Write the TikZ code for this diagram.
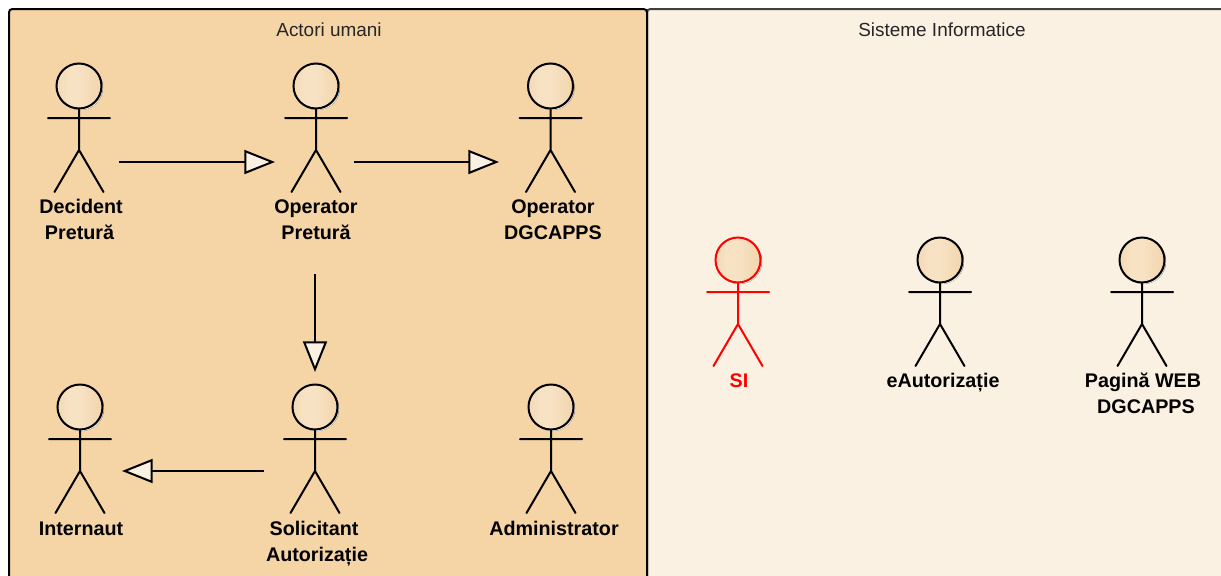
\documentclass[tikz,border=0pt]{standalone}
\usepackage{fontspec}
\setmainfont{Liberation Sans}
\usetikzlibrary{arrows.meta}
\definecolor{panelA}{HTML}{F5D5A6}
\definecolor{panelB}{HTML}{FBF1E2}
\definecolor{headA}{HTML}{EBCB9C}
\definecolor{headB}{HTML}{F7E2C4}
\definecolor{headC}{HTML}{EDC792}
\definecolor{shade}{HTML}{B9BCD0}
\definecolor{redline}{HTML}{FF0000}
\pgfdeclarehorizontalshading{headshade}{100bp}{color(0bp)=(headA); color(38bp)=(headB); color(50bp)=(headB); color(100bp)=(headC)}
\tikzset{
  panel/.style={draw=black,line width=1.5pt,rounded corners=2.5pt},
  paneltitle/.style={font=\fontsize{14.2pt}{16pt}\selectfont,anchor=base,inner sep=0pt,text=black!85},
  actorname/.style={font=\fontsize{14.8pt}{17pt}\selectfont\bfseries,anchor=base,inner sep=0pt},
  limb/.style={line width=1.5pt,line cap=round},
  headnode/.style={circle,minimum size=33.75pt,inner sep=0pt,line width=1.5pt,shading=headshade,shading angle=0},
  gen/.style={line width=1.5pt,-{Triangle[length=23pt,width=18pt,fill=panelB,line width=1.5pt]}},
  pics/actor/.style={code={
    \fill[shade] (1.5,1.5) circle[radius=22.5];
    \node[headnode,draw=#1] (-head) at (0,0) {};
    \draw[limb,#1] (-head.south) -- (0,64) (-31,32) -- (31,32) (-24.5,106) -- (0,64) -- (24.5,106);
  }},
  pics/actor/.default=black
}
\begin{document}
\begin{tikzpicture}[x=0.75pt,y=-0.75pt]
\useasboundingbox (0,0) rectangle (1221,575);
\begin{scope}
\clip (0,0) rectangle (1221,575);
\path[panel,fill=panelB,draw=black!75] (647,9) rectangle (1240,600);
\path[panel,fill=panelA] (9,9) rectangle (647,600);
\end{scope}
\node[paneltitle] (t1) at (329,36) {Actori umani};
\node[paneltitle] (t2) at (942,36) {Sisteme Informatice};

\pic (dec) at (79,86) {actor};
\pic (opp) at (316,86) {actor};
\pic (opd) at (550.5,86) {actor};
\pic (int) at (80,407) {actor};
\pic (sol) at (315,407) {actor};
\pic (adm) at (551,407) {actor};
\pic (si) at (738,260) {actor=redline};
\pic (eau) at (940,260) {actor};
\pic (pag) at (1142,260) {actor};

\node[actorname] (l1) at (81,213) {Decident};
\node[actorname] (l1b) at (79.5,239) {Pretură};
\node[actorname] (l2) at (316,213) {Operator};
\node[actorname] (l2b) at (316,239) {Pretură};
\node[actorname] (l3) at (553,213) {Operator};
\node[actorname] (l3b) at (553,239) {DGCAPPS};
\node[actorname] (l4) at (81,535) {Internaut};
\node[actorname] (l5) at (314,535) {Solicitant};
\node[actorname] (l5b) at (317,561) {Autorizație};
\node[actorname] (l6) at (554,535) {Administrator};
\node[actorname,text=redline] (l7) at (739,387) {SI};
\node[actorname] (l8) at (943,387) {eAutorizație};
\node[actorname] (l9) at (1143,387) {Pagină WEB};
\node[actorname] (l9b) at (1146,413) {DGCAPPS};

\coordinate (a1) at (119,162); \coordinate (a2) at (275,162);
\coordinate (b1) at (354,162); \coordinate (b2) at (499,162);
\coordinate (c1) at (315,274); \coordinate (c2) at (315,372);
\coordinate (d1) at (264,471); \coordinate (d2) at (122,471);
\draw[gen] (a1) -- (a2);
\draw[gen] (b1) -- (b2);
\draw[gen] (c1) -- (c2);
\draw[gen] (d1) -- (d2);
\end{tikzpicture}
\end{document}
